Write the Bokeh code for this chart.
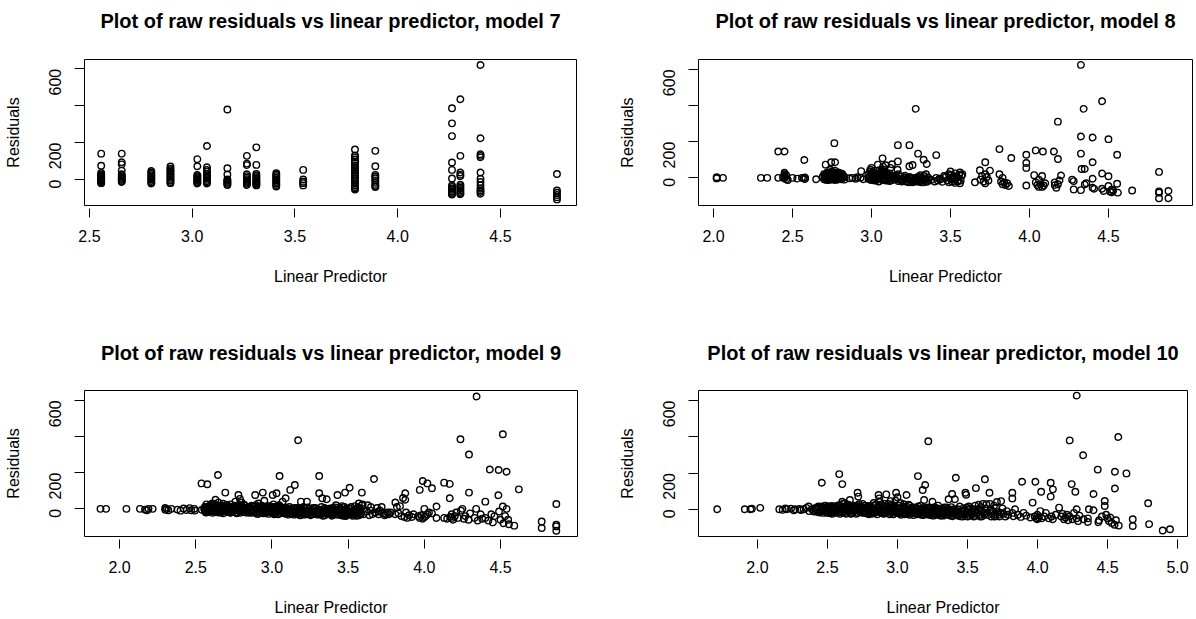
import math
from bokeh.plotting import figure
from bokeh.layouts import column, row
from bokeh.models import Range1d, FixedTicker, PrintfTickFormatter
from bokeh.core.properties import value
from bokeh.embed import file_html
from bokeh.resources import INLINE

FONT = "Liberation Sans"

# ---- model 7: the linear predictor takes only a few distinct values ----
lp7 = [2.557, 2.657, 2.801, 2.894, 3.025, 3.072, 3.171, 3.266, 3.312,
       3.409, 3.540, 3.792, 3.891, 4.264, 4.305, 4.403, 4.775]
res7 = [
    [140, 74, 36, 28, 22, 16, 10, 5, 0, -4, -8, -12, -16, -20],
    [140, 93, 82, 48, 28, 22, 16, 10, 4, -2, -8, -14],
    [46, 38, 30, 22, 14, 6, 0, -8, -16, -22],
    [70, 58, 50, 42, 34, 26, 18, 10, 2, -6, -14, -20],
    [110, 72, 24, 18, 12, 6, 0, -6, -12, -18, -22],
    [181, 66, 52, 44, 30, 22, 14, 6, -2, -10, -16, -22],
    [379, 61, 27, 0, -6, -12, -18, -24, -30],
    [128, 86, 78, 28, 18, 10, 2, -6, -12, -18, -24, -30],
    [174, 79, 30, 20, 12, 4, -4, -10, -16, -22, -28, -32],
    [34, 26, 18, 10, 2, -6, -14, -22, -30, -38],
    [52, 0, -12, -20, -32],
    [162, 130, 120, 108, 98, 90, 76, 66, 56, 48, 36, 25, 13, 4, -5, -14, -23, -32, -41, -48, -54],
    [155, 72, 25, 16, 7, -5, -18, -29, -36, -41],
    [386, 304, 235, 92, 52, 5, -32, -40, -48, -56, -64, -72, -78, -82],
    [435, 128, 38, 26, 18, -28, -36, -44, -52, -60, -68, -76, -80],
    [620, 223, 137, 128, 120, 38, 4, -14, -32, -50, -60, -68, -77],
    [30, -60, -72, -84, -96, -108],
]

# ---- model 8 ----
lp8 = [
    2.02, 2.02, 2.06, 2.30, 2.34, 2.41, 2.45, 2.41, 2.44, 2.45,
    2.45, 2.45, 2.45, 2.46, 2.45, 2.47, 2.46, 2.50, 2.53, 2.56,
    2.58, 2.575, 2.58, 2.57, 2.65, 2.71, 2.745, 2.77, 2.765, 2.72,
    2.74, 2.69, 2.70, 2.70, 2.71, 2.72, 2.72, 2.73, 2.73, 2.74,
    2.74, 2.75, 2.75, 2.76, 2.76, 2.77, 2.77, 2.78, 2.78, 2.79,
    2.79, 2.80, 2.81, 2.81, 2.82, 2.83, 2.83, 2.86, 2.88, 2.90,
    2.91, 2.93, 2.935, 2.95, 2.98, 2.98, 2.99, 2.99, 3.00, 3.00,
    3.01, 3.01, 3.02, 3.02, 3.03, 3.03, 3.04, 3.04, 3.04, 3.05,
    3.05, 3.05, 3.06, 3.06, 3.07, 3.07, 3.07, 3.08, 3.08, 3.09,
    3.09, 3.09, 3.10, 3.10, 3.11, 3.11, 3.12, 3.12, 3.13, 3.13,
    3.167, 3.167, 3.165, 3.17, 3.14, 3.15, 3.16, 3.17, 3.18, 3.19,
    3.20, 3.21, 3.22, 3.23, 3.24, 3.25, 3.26, 3.27, 3.28, 3.29,
    3.30, 3.31, 3.32, 3.33, 3.34, 3.35, 3.36, 3.36, 3.24, 3.24,
    3.26, 3.28, 3.295, 3.33, 3.35, 3.41, 3.31, 3.345, 3.38, 3.40,
    3.41, 3.42, 3.44, 3.45, 3.47, 3.48, 3.49, 3.50, 3.50, 3.51,
    3.52, 3.53, 3.53, 3.54, 3.55, 3.56, 3.56, 3.57, 3.655, 3.686,
    3.72, 3.75, 3.69, 3.70, 3.71, 3.72, 3.73, 3.74, 3.72, 3.81,
    3.885, 3.81, 3.82, 3.83, 3.84, 3.85, 3.86, 3.87, 3.83, 3.98,
    3.98, 3.98, 3.98, 4.04, 4.085, 4.03, 4.04, 4.05, 4.06, 4.07,
    4.08, 4.09, 4.08, 4.10, 4.06, 4.155, 4.18, 4.18, 4.20, 4.16,
    4.16, 4.17, 4.18, 4.19, 4.28, 4.28, 4.27, 4.326, 4.326, 4.326,
    4.33, 4.35, 4.343, 4.326, 4.35, 4.36, 4.40, 4.40, 4.40, 4.40,
    4.41, 4.46, 4.46, 4.46, 4.47, 4.50, 4.50, 4.50, 4.51, 4.52,
    4.53, 4.52, 4.555, 4.555, 4.56, 4.65, 4.82, 4.82, 4.82, 4.82,
    4.88, 4.88,
    2.705, 2.715, 2.725, 2.735, 2.745, 2.755, 2.765, 2.775, 2.785, 2.795,
    2.805, 2.815, 2.825, 2.985, 2.995, 3.005, 3.015, 3.025, 3.035, 3.045,
    3.055, 3.065, 3.075, 3.085, 3.095, 3.105, 3.115, 3.125, 3.145, 3.155,
    3.175, 3.195, 3.215, 3.235, 3.255, 3.275, 3.295, 3.315, 3.335, 3.355,
    3.43, 3.46, 3.49, 3.505, 3.515, 3.525, 3.545, 3.555, 3.565, 3.575,
    2.712, 2.722, 2.732, 2.742, 2.752, 2.762, 2.772, 2.782, 2.792, 2.802,
    3.002, 3.012, 3.022, 3.032, 3.042, 3.052, 3.062, 3.072, 3.082, 3.092,
    3.102, 3.112, 3.182, 3.202, 3.222, 3.242, 3.262, 3.282, 3.302, 3.322,
    2.703, 2.727, 2.748, 2.768, 2.788, 2.808, 2.993, 3.013, 3.033, 3.053,
    3.073, 3.093, 3.113, 3.133, 3.213, 3.253, 3.293, 3.333, 3.513, 3.543,
]
res8 = [
    3, -3, 0, 0, 0, 146, 146, 0, 2, 20,
    12, 5, -2, -8, 28, -12, 15, 0, -4, 0,
    2, 99, -6, -2, -8, 73, 86, 86, 192, 30,
    45, 5, 20, -8, 10, -5, 25, 8, -12, 18,
    0, 35, -8, 12, -2, 25, -12, 5, 15, -5,
    30, 8, -8, 15, 0, 5, -10, -2, 0, -5,
    3, 0, 37, -8, 20, -5, 35, 8, -12, 55,
    15, -3, 25, -15, 5, 40, -8, 73, 18, 42,
    -18, 0, 28, 10, 108, -10, 48, 15, -2, 70,
    30, -15, 5, 22, -8, 12, 0, 55, -12, 75,
    91, 181, 45, 20, 5, -10, 0, -18, 8, -5,
    -15, 2, -20, -8, 5, -18, -25, -10, 0, -20,
    -12, 8, -15, -25, -5, -18, 2, -10, 181, 64,
    71, 382, 134, 100, 77, 126, 15, 20, -12, -20,
    0, -15, -8, -22, 5, -15, 20, -5, 35, -20,
    10, -28, 25, 0, -15, 30, -30, 12, -24, 42,
    86, 40, -10, 10, -20, -30, 5, -15, 20, 159,
    110, 20, -20, -35, -25, -40, -30, -45, 0, 128,
    82, 55, -42, 152, 146, 15, -25, -40, -50, -35,
    -50, -42, 10, -30, -10, 146, 104, 311, 13, -25,
    -40, -55, -35, -15, -18, -64, -10, 625, 229, 134,
    49, 49, 382, -68, -37, -30, 223, 86, -5, -55,
    -60, 424, 24, -60, -73, 214, 9, -45, -75, -80,
    -70, -65, 128, -33, -82, -70, 33, -82, -113, -75,
    -73, -113,
    0, -12, 12, 20, -5, 8, 30, 0, -10, 12,
    -2, 22, 10, 2, -10, 28, 8, -8, 15, -20,
    20, -2, 32, -12, 12, -5, 25, -15, -5, 10,
    -8, -20, -10, -25, 0, -20, -8, -25, -12, -22,
    -5, 10, -25, 15, -10, 5, -20, 18, -15, 20,
    18, 2, -5, 28, 10, -8, 15, -5, 22, 2,
    5, 30, -8, 22, 2, 12, 38, -5, 25, 8,
    -10, 2, -12, 0, -8, -12, -15, -5, -20, -2,
    10, 22, -10, 40, -8, 25, 45, -10, 0, 18,
    62, 18, -18, 10, 12, -2, 5, 10, -5, 5,
]

# ---- model 9 ----
lp9 = [
    1.875, 1.912, 2.045, 2.134, 2.167, 2.18, 2.19, 2.217, 2.30, 2.30,
    2.31, 2.32, 2.34, 2.38, 2.40, 2.42, 2.44, 2.46, 2.47, 2.49,
    2.495, 2.54, 2.538, 2.576, 2.646, 2.694, 2.63, 2.60, 2.65, 2.56,
    2.56, 2.57, 2.58, 2.58, 2.59, 2.60, 2.61, 2.61, 2.62, 2.63,
    2.64, 2.64, 2.65, 2.66, 2.67, 2.68, 2.68, 2.69, 2.70, 2.71,
    2.72, 2.73, 2.73, 2.74, 2.75, 2.76, 2.77, 2.78, 2.78, 2.79,
    2.80, 2.80, 2.81, 2.82, 2.83, 2.84, 2.79, 2.76, 2.86, 2.86,
    2.88, 2.88, 2.89, 2.90, 2.90, 2.91, 2.92, 2.93, 2.94, 2.94,
    2.95, 2.95, 2.96, 2.97, 2.98, 2.99, 3.00, 3.005, 3.01, 3.02,
    3.03, 3.03, 3.04, 3.05, 3.05, 3.06, 3.07, 3.07, 3.08, 3.09,
    3.09, 3.10, 3.11, 3.12, 3.12, 3.13, 3.14, 3.15, 3.15, 3.16,
    3.172, 3.17, 3.18, 3.19, 3.19, 3.20, 3.21, 3.22, 3.23, 3.23,
    3.24, 3.25, 3.26, 3.27, 3.28, 3.29, 3.30, 3.31, 3.31, 3.31,
    3.32, 3.33, 3.34, 3.35, 3.36, 3.36, 3.37, 3.38, 3.39, 3.40,
    3.41, 3.42, 3.43, 3.43, 3.44, 3.45, 3.46, 3.47, 3.48, 3.48,
    3.49, 3.50, 3.51, 3.51, 3.52, 3.53, 3.54, 3.55, 3.56, 3.57,
    3.57, 3.58, 3.59, 3.59, 3.60, 3.60, 3.63, 3.65, 3.65, 3.66,
    3.67, 3.68, 3.69, 3.70, 3.71, 3.72, 3.73, 3.74, 3.76, 3.77,
    3.81, 3.81, 3.82, 3.83, 3.84, 3.85, 3.86, 3.875, 3.875, 3.87,
    3.88, 3.89, 3.90, 3.92, 3.93, 3.96, 3.97, 3.97, 3.98, 3.99,
    3.99, 4.00, 4.00, 4.01, 4.02, 4.02, 4.03, 4.05, 4.05, 4.08,
    4.08, 4.13, 4.13, 4.15, 4.167, 4.167, 4.17, 4.18, 4.18, 4.19,
    4.20, 4.21, 4.22, 4.237, 4.24, 4.25, 4.26, 4.27, 4.293, 4.293,
    4.29, 4.30, 4.343, 4.34, 4.33, 4.35, 4.37, 4.38, 4.40, 4.40,
    4.42, 4.43, 4.44, 4.45, 4.46, 4.488, 4.486, 4.49, 4.50, 4.515,
    4.515, 4.52, 4.53, 4.54, 4.54, 4.55, 4.555, 4.62, 4.59, 4.77,
    4.77, 4.866, 4.866, 4.866, 4.866,
    2.555, 2.565, 2.575, 2.585, 2.595, 2.605, 2.615, 2.625, 2.635, 2.645,
    2.655, 2.665, 2.675, 2.685, 2.695, 2.705, 2.715, 2.725, 2.735, 2.745,
    2.755, 2.765, 2.775, 2.785, 2.795, 2.805, 2.815, 2.825, 2.835, 2.845,
    2.855, 2.865, 2.875, 2.885, 2.895, 2.905, 2.915, 2.925, 2.935, 2.945,
    2.955, 2.965, 2.975, 2.985, 2.995, 3.005, 3.015, 3.025, 3.035, 3.045,
    3.055, 3.065, 3.075, 3.085, 3.095, 3.105, 3.115, 3.125, 3.135, 3.145,
    3.155, 3.165, 3.175, 3.185, 3.195, 3.205, 3.215, 3.225, 3.235, 3.245,
    3.255, 3.265, 3.275, 3.285, 3.295, 3.305, 3.315, 3.325, 3.335, 3.345,
    3.355, 3.365, 3.375, 3.385, 3.395, 3.405, 3.415, 3.425, 3.435, 3.445,
    3.455, 3.465, 3.475, 3.485, 3.495, 3.505, 3.515, 3.525, 3.535, 3.545,
    3.555, 3.565, 3.575, 3.585, 3.595, 3.62, 3.64, 3.70, 3.75, 3.78,
    2.562, 2.582, 2.602, 2.622, 2.642, 2.662, 2.682, 2.702, 2.722, 2.742,
    2.762, 2.782, 2.802, 2.822, 2.842, 2.862, 2.882, 2.902, 2.922, 2.942,
    2.962, 2.982, 3.002, 3.022, 3.042, 3.062, 3.082, 3.102, 3.122, 3.142,
    3.162, 3.182, 3.202, 3.222, 3.242, 3.262, 3.282, 3.302, 3.322, 3.342,
    3.362, 3.382, 3.402, 3.422, 3.442, 3.462, 3.482, 3.502, 3.522, 3.542,
    3.562, 3.582,
    2.567, 2.587, 2.607, 2.627, 2.647, 2.667, 2.687, 2.707, 2.727, 2.747,
    2.767, 2.787, 2.807, 2.827, 2.847, 2.867, 2.887, 2.907, 2.927, 2.947,
    2.967, 2.987, 3.007, 3.027, 3.047, 3.067, 3.087, 3.107, 3.127, 3.147,
    3.167, 3.187, 3.207, 3.227, 3.247, 3.267, 3.287, 3.307, 3.327, 3.347,
    3.367, 3.387, 3.407, 3.427, 3.447, 3.467, 3.487, 3.507, 3.527, 3.547,
]
res9 = [
    0, 0, 0, 0, -4, -8, 0, 0, 5, -5,
    0, -8, 0, -4, -10, 2, -6, 4, -8, 0,
    -10, -5, 141, 136, 187, 90, 50, 25, 35, 10,
    -10, 25, 0, -18, 15, -5, 30, -22, 8, -12,
    20, 0, -20, 10, -8, 28, -25, 5, -15, 15,
    -5, 25, -22, 2, -12, 18, -25, 0, 77, -15,
    35, 10, -8, 20, -20, 0, 55, 40, 5, -15,
    -5, 15, 77, -20, 0, 30, -10, 10, 90, -25,
    45, 0, -15, 15, -28, 5, -12, 77, 25, -20,
    86, 0, -30, 182, 12, -15, 40, -5, -25, 59,
    8, -18, -32, 105, 0, -12, -25, 132, 5, -20,
    380, -30, -8, 40, -22, -15, -32, 2, 40, -20,
    -28, -10, -30, 5, -22, -12, -32, 86, 182, -5,
    -25, 59, -15, -35, 53, 0, -25, -12, -32, 5,
    -20, 20, 77, -30, -8, -25, 15, -38, 90, -15,
    0, -32, 117, -20, 10, -38, -10, -28, 5, 30,
    -35, -15, 90, 20, -30, 0, 20, -10, 10, -30,
    165, -20, 5, -30, -10, 10, -25, -35, -20, -30,
    35, -30, 10, -25, 15, -40, 60, 86, 50, -45,
    -20, -50, -35, -45, -30, -40, 105, -50, -35, 154,
    -55, -45, 0, -40, 141, -30, -20, 114, -25, 13,
    -51, 145, -50, -55, 138, 59, -45, -50, -30, -60,
    -40, -20, -50, 385, -10, 0, -55, -40, 301, 90,
    -60, -25, 622, 0, -50, -65, -30, -55, 40, -50,
    -65, 218, -30, -75, -40, 215, 75, -15, -60, 413,
    13, -80, -40, 205, 0, -60, -85, 108, -93, -70,
    -106, 27, -88, -97, -121,
    0, -15, 12, 5, -8, 18, -2, -18, 15, -10,
    5, -20, 18, -5, 10, 22, -18, 8, -12, 12,
    -2, -20, 15, 8, -22, 0, 25, 5, -8, -18,
    10, -22, 0, -12, 20, -28, 5, -18, 18, -8,
    -25, 8, -10, 15, -20, 2, -30, 12, -15, -5,
    -25, 8, -18, 2, -28, -8, 10, -22, 0, -32,
    -12, 5, -20, -35, 0, -25, -10, -30, 8, -18,
    -35, -5, -25, 5, -20, -10, -30, 10, -38, -18,
    -8, -28, 0, -20, -38, -12, 8, -32, -18, 0,
    -35, -22, 10, -40, -8, -25, 0, -18, -30, 15,
    -38, -10, 5, -25, 25, -15, -35, -15, -30, -20,
    5, -5, -12, 20, -2, 15, -8, 2, 10, -18,
    8, -10, 14, -2, 8, -8, -20, 10, -2, -18,
    2, -12, 10, -22, 5, 2, -10, -22, -5, -12,
    -25, 0, -5, -12, -20, -15, 0, -22, -15, -8,
    -18, 2, -25, -5, -18, -30, -2, -12, -22, -5,
    -20, -30,
    -20, 8, 18, -12, 5, -15, 12, -8, -20, 0,
    -5, 20, -15, 5, -22, 18, -12, -28, 0, 8,
    -18, 10, -25, -8, 20, -20, 0, -12, -28, 2,
    -15, -25, 10, -28, 0, -18, -28, -10, -30, 5,
    -8, -30, -12, -22, 5, -20, -32, 2, -30, -18,
]

# ---- model 10 ----
lp10 = [
    1.713, 1.91, 1.95, 1.96, 2.02, 2.156, 2.18, 2.20, 2.21, 2.24,
    2.26, 2.27, 2.30, 2.31, 2.33, 2.35, 2.366, 2.37, 2.39, 2.40,
    2.42, 2.43, 2.44, 2.45, 2.46, 2.46, 2.47, 2.48, 2.49, 2.50,
    2.51, 2.52, 2.53, 2.54, 2.55, 2.56, 2.57, 2.58, 2.584, 2.59,
    2.60, 2.606, 2.606, 2.61, 2.62, 2.63, 2.64, 2.65, 2.66, 2.66,
    2.67, 2.68, 2.69, 2.70, 2.715, 2.72, 2.72, 2.73, 2.74, 2.75,
    2.76, 2.77, 2.78, 2.79, 2.80, 2.81, 2.82, 2.83, 2.84, 2.85,
    2.865, 2.87, 2.87, 2.88, 2.89, 2.90, 2.91, 2.92, 2.92, 2.93,
    2.94, 2.95, 2.96, 2.97, 2.98, 2.99, 2.99, 3.00, 3.00, 3.01,
    3.02, 3.03, 3.04, 3.05, 3.065, 3.06, 3.07, 3.08, 3.09, 3.10,
    3.11, 3.12, 3.13, 3.146, 3.14, 3.15, 3.16, 3.17, 3.18, 3.18,
    3.19, 3.19, 3.198, 3.20, 3.21, 3.22, 3.22, 3.23, 3.24, 3.25,
    3.25, 3.26, 3.27, 3.28, 3.29, 3.30, 3.31, 3.32, 3.33, 3.34,
    3.35, 3.365, 3.36, 3.37, 3.38, 3.39, 3.40, 3.41, 3.417, 3.42,
    3.43, 3.44, 3.45, 3.46, 3.47, 3.485, 3.49, 3.49, 3.50, 3.51,
    3.52, 3.53, 3.54, 3.56, 3.55, 3.57, 3.58, 3.59, 3.60, 3.61,
    3.62, 3.624, 3.63, 3.64, 3.657, 3.66, 3.67, 3.68, 3.69, 3.70,
    3.71, 3.72, 3.73, 3.74, 3.75, 3.76, 3.77, 3.78, 3.79, 3.82,
    3.82, 3.82, 3.83, 3.84, 3.86, 3.89, 3.88, 3.90, 3.92, 3.95,
    3.965, 3.985, 3.98, 3.99, 4.00, 4.00, 4.01, 4.02, 4.026, 4.03,
    4.05, 4.06, 4.08, 4.094, 4.094, 4.11, 4.10, 4.11, 4.13, 4.154,
    4.17, 4.18, 4.19, 4.20, 4.21, 4.22, 4.23, 4.23, 4.244, 4.25,
    4.26, 4.27, 4.28, 4.28, 4.28, 4.29, 4.30, 4.326, 4.33, 4.367,
    4.36, 4.36, 4.40, 4.40, 4.43, 4.435, 4.44, 4.46, 4.48, 4.48,
    4.49, 4.50, 4.51, 4.52, 4.53, 4.553, 4.553, 4.55, 4.56, 4.577,
    4.58, 4.635, 4.68, 4.68, 4.79, 4.797, 4.894, 4.946,
    2.405, 2.415, 2.425, 2.435, 2.445, 2.455, 2.465, 2.475, 2.485, 2.495,
    2.505, 2.515, 2.525, 2.535, 2.545, 2.555, 2.565, 2.575, 2.585, 2.595,
    2.605, 2.615, 2.625, 2.635, 2.645, 2.655, 2.665, 2.675, 2.685, 2.695,
    2.705, 2.715, 2.725, 2.735, 2.745, 2.755, 2.765, 2.775, 2.785, 2.795,
    2.805, 2.815, 2.825, 2.835, 2.845, 2.855, 2.865, 2.875, 2.885, 2.895,
    2.905, 2.915, 2.925, 2.935, 2.945, 2.955, 2.965, 2.975, 2.985, 2.995,
    3.005, 3.015, 3.025, 3.035, 3.045, 3.055, 3.065, 3.075, 3.085, 3.095,
    3.105, 3.115, 3.125, 3.135, 3.145, 3.155, 3.165, 3.175, 3.185, 3.195,
    3.205, 3.215, 3.225, 3.235, 3.245, 3.255, 3.265, 3.275, 3.285, 3.295,
    3.305, 3.315, 3.325, 3.335, 3.345, 3.355, 3.365, 3.375, 3.385, 3.395,
    3.405, 3.415, 3.425, 3.435, 3.445, 3.455, 3.465, 3.475, 3.485, 3.495,
    3.505, 3.515, 3.525, 3.535, 3.545, 3.555, 3.565, 3.575, 3.585, 3.595,
    3.605, 3.615, 3.635, 3.645, 3.665, 3.675, 3.695, 3.705, 3.725, 3.745,
    2.452, 2.472, 2.492, 2.512, 2.532, 2.552, 2.572, 2.592, 2.612, 2.632,
    2.652, 2.672, 2.692, 2.712, 2.732, 2.752, 2.772, 2.792, 2.812, 2.832,
    2.852, 2.872, 2.892, 2.912, 2.932, 2.952, 2.972, 2.992, 3.012, 3.032,
    3.052, 3.072, 3.092, 3.112, 3.132, 3.152, 3.172, 3.192, 3.212, 3.232,
    3.252, 3.272, 3.292, 3.312, 3.332, 3.352, 3.372, 3.392, 3.412, 3.432,
    3.452, 3.472, 3.492, 3.512, 3.532, 3.552,
    2.427, 2.447, 2.467, 2.487, 2.507, 2.527, 2.547, 2.567, 2.587, 2.607,
    2.627, 2.647, 2.667, 2.687, 2.707, 2.727, 2.747, 2.767, 2.787, 2.807,
    2.827, 2.847, 2.867, 2.887, 2.907, 2.927, 2.947, 2.967, 2.987, 3.007,
    3.027, 3.047, 3.067, 3.087, 3.107, 3.127, 3.147, 3.167, 3.187, 3.207,
    3.227, 3.247, 3.267, 3.287, 3.307, 3.327, 3.347, 3.367, 3.387, 3.407,
]
res10 = [
    0, 0, 0, 3, 8, 0, -3, 5, 0, 3,
    -5, 0, 2, -4, 0, 8, 15, -10, 0, -8,
    5, -15, 10, -5, 146, 15, -20, 0, 12, -12,
    5, -22, 18, -5, 8, -18, 20, 0, 194, -25,
    12, 139, 42, 30, -10, 5, -20, 25, 51, -5,
    10, -15, 20, 0, 91, 70, -20, 15, -8, 30,
    -15, 5, -22, 18, -5, 10, -25, 35, 0, -15,
    79, 60, 20, -10, 5, -25, 30, 82, -5, 15,
    -20, 45, 0, -28, 20, 91, -10, 66, 8, -22,
    35, -5, 15, -28, 79, 5, -15, 25, -8, -25,
    10, -18, 0, 183, -28, 15, -10, -30, 106, 5,
    51, -20, 134, -5, -28, 375, 10, -15, -32, 42,
    0, -22, -8, -30, 20, -15, -35, 0, -20, -30,
    10, 55, -25, -8, -35, 84, -18, 55, 174, -30,
    0, -22, -38, -10, 5, 91, 80, -25, -40, 15,
    -15, -30, 0, 117, -35, -20, 25, -40, -10, 30,
    -30, 166, 5, -20, 91, 30, -40, -10, 20, -30,
    40, -15, -40, 45, 5, -25, -40, -10, -30, 91,
    60, -20, -38, 0, -30, 152, -42, -20, -35, -45,
    37, 152, -40, -50, -55, -30, -45, -10, 97, -50,
    -40, -20, -50, 146, 70, 110, -40, -55, -30, 9,
    -40, -25, -55, -45, -30, -60, 380, -40, 139, -55,
    -20, 97, 627, 0, -50, -65, -35, 298, -55, 0,
    -50, -70, 84, -5, 219, -71, -60, -40, 46, 18,
    -30, -50, -65, -45, -75, 207, 115, -85, -60, 399,
    -90, 198, -55, -92, 33, -82, -117, -110,
    -12, 8, -2, 15, -18, 0, 10, -10, 20, -20,
    8, -15, 2, -25, 15, -8, 0, -20, 22, 5,
    -18, 10, 35, -25, 5, -12, 18, -22, 0, 12,
    -25, 5, 28, -12, 10, -20, 20, -5, 8, -28,
    15, -10, 2, -20, 25, -28, 0, 40, -15, 12,
    -8, -22, 5, 30, -28, 12, -15, 0, 48, -20,
    20, -12, -30, 5, 28, -20, -5, 12, -30, 0,
    -15, -32, 8, -20, 0, -25, 20, -12, -32, 0,
    -20, -8, -30, 5, -22, -35, 12, -15, 0, -28,
    -5, -20, -35, 10, -12, -28, 0, -18, 12, -38,
    0, -25, -10, -35, 15, -20, -40, -5, -28, 10,
    -22, -35, 5, -12, -40, 20, -25, 0, -30, 12,
    -40, -18, 28, -32, 0, -22, -40, 8, -30, -20,
    0, -8, 5, -15, 10, -2, 12, -12, 0, 18,
    -10, 2, -5, 8, -15, 12, -10, 0, -18, 5,
    8, -12, 20, -18, 0, -8, 10, -15, 2, -20,
    10, -22, 0, -8, 10, -15, -5, 8, -12, -20,
    -2, 2, -18, -10, -25, 0, -12, -25, -5, -15,
    -28, -8, -20, 2, -25, -10,
    2, -10, 8, -5, 15, -18, 5, 12, -10, -2,
    -12, 15, -25, 5, 18, -10, 0, -18, 12, -20,
    20, -8, 10, -20, 15, -12, 22, -5, -20, 5,
    -18, 10, -25, 20, -5, 8, -18, 0, -10, -22,
    2, -15, -28, 5, -25, 0, -12, -30, -2, -22,
]

# tick positions for each panel's horizontal axis
ticks7 = [2.5, 3.0, 3.5, 4.0, 4.5]
ticks8 = [2.0, 2.5, 3.0, 3.5, 4.0, 4.5]
ticks9 = [2.0, 2.5, 3.0, 3.5, 4.0, 4.5]
ticks10 = [2.0, 2.5, 3.0, 3.5, 4.0, 4.5, 5.0]
resid_ticks = [0, 200, 400, 600]


def title_strip(model, width, height, left, right, centre_from_top):
    """A thin figure that only carries the bold main title of one panel."""
    t = figure(width=width, height=height, output_backend="svg",
               toolbar_location=None, title=None,
               x_range=Range1d(0, width), y_range=Range1d(0, height),
               x_axis_location=None, y_axis_location=None,
               min_border=0, outline_line_color=None,
               background_fill_color="white", border_fill_color="white")
    t.grid.visible = False
    t.text(x=[left + (width - left - right) / 2],
           y=[height - centre_from_top],
           text=[f"Plot of raw residuals vs linear predictor, model {model}"],
           text_align="center", text_baseline="middle",
           text_font=value(FONT), text_font_size="20px",
           text_font_style="bold", text_color="black")
    return t


def residual_panel(lp, res, width, height, borders, xr, yr, xticks):
    left, right, top, bottom = borders
    p = figure(width=width, height=height, output_backend="svg",
               toolbar_location=None, title=None,
               x_range=Range1d(*xr), y_range=Range1d(*yr),
               min_border_left=left, min_border_right=right,
               min_border_top=top, min_border_bottom=bottom,
               background_fill_color="white", border_fill_color="white")
    p.grid.visible = False
    p.outline_line_color = "black"
    p.outline_line_width = 1
    p.outline_line_alpha = 1.0

    p.scatter(lp, res, marker="circle", size=6.5, fill_color=None,
              line_color="black", line_width=1.4)

    xa = p.xaxis[0]
    xa.ticker = FixedTicker(ticks=xticks)
    xa.formatter = PrintfTickFormatter(format="%.1f")
    xa.axis_label = "Linear Predictor"
    xa.axis_line_color = None
    xa.major_tick_in = -3
    xa.major_tick_out = 12
    xa.minor_tick_line_color = None
    xa.major_tick_line_color = "black"
    xa.major_label_standoff = 12
    xa.axis_label_standoff = 23

    ya = p.yaxis[0]
    ya.ticker = FixedTicker(ticks=resid_ticks)
    ya.major_label_overrides = {400: ""}
    ya.axis_label = "Residuals"
    ya.axis_line_color = None
    ya.major_tick_in = 0
    ya.major_tick_out = 10
    ya.minor_tick_line_color = None
    ya.major_tick_line_color = "black"
    ya.major_label_orientation = math.pi / 2
    ya.major_label_standoff = 19
    ya.axis_label_standoff = 19

    for ax in (xa, ya):
        ax.major_label_text_font = FONT
        ax.major_label_text_font_size = "16px"
        ax.major_label_text_color = "black"
        ax.axis_label_text_font = FONT
        ax.axis_label_text_font_size = "16px"
        ax.axis_label_text_font_style = "normal"
        ax.axis_label_text_color = "black"
    return p


# model 7 repeats each distinct predictor value for its group of residuals
x7 = [v for v, grp in zip(lp7, res7) for _ in grp]
y7 = [r for grp in res7 for r in grp]

t7 = title_strip(7, 598, 40, 84, 22, 20)
t8 = title_strip(8, 598, 40, 100, 4, 20)
t9 = title_strip(9, 598, 60, 84, 21, 43)
t10 = title_strip(10, 598, 60, 100, 9, 43)

p7 = residual_panel(x7, y7, 598, 269, (84, 22, 19, 104),
                    (2.4757, 4.870), (-141, 650), ticks7)
p8 = residual_panel(lp8, res8, 598, 269, (100, 4, 19, 104),
                    (1.905, 5.032), (-153, 655), ticks8)
p9 = residual_panel(lp9, res9, 598, 250, (84, 21, 21, 82),
                    (1.770, 5.005), (-153, 655), ticks9)
p10 = residual_panel(lp10, res10, 598, 250, (100, 9, 21, 83),
                     (1.579, 5.071), (-150, 655), ticks10)

layout = column(row(t7, t8), row(p7, p8), row(t9, t10), row(p9, p10))
open("out.html", "w").write(file_html(layout, INLINE))
